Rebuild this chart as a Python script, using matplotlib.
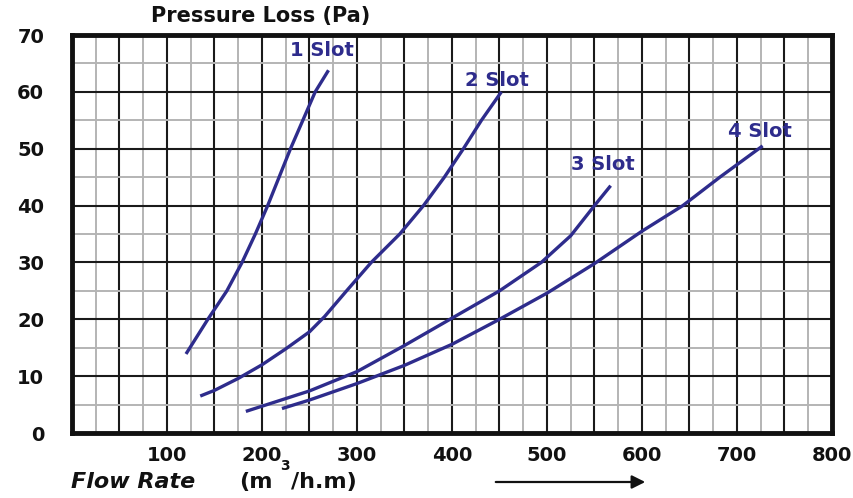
import matplotlib
matplotlib.use("Agg")
import matplotlib.pyplot as plt
from matplotlib.ticker import MultipleLocator, FuncFormatter

# ---- data ----
slot1_x = [120, 143, 163, 179, 193, 206, 218, 230, 243, 256, 270]
slot1_y = [13.9, 20, 25, 30, 35, 40, 45, 50, 55, 60, 63.8]

slot2_x = [135, 150, 175, 200, 225, 250, 266, 289, 315, 345, 370, 392, 412, 431, 452]
slot2_y = [6.5, 7.5, 9.6, 12, 14.8, 17.8, 20.5, 25, 30, 35, 40, 45, 50, 55, 60]

slot3_x = [183, 250, 300, 349, 400, 450, 494, 525, 550, 567]
slot3_y = [3.8, 7.4, 10.8, 15.3, 20.2, 25, 30, 34.7, 40, 43.5]

slot4_x = [221, 250, 300, 350, 400, 450, 500, 550, 600, 643, 682, 727]
slot4_y = [4.3, 5.8, 8.7, 11.9, 15.6, 20.0, 24.6, 29.8, 35.5, 40, 45, 50.5]

series_labels = ["1 Slot", "2 Slot", "3 Slot", "4 Slot"]
label_pos = [(263, 67.3), (447, 62.0), (559, 47.3), (724, 53.0)]

x_tick_labels = [100, 200, 300, 400, 500, 600, 700, 800]
y_tick_labels = [0, 10, 20, 30, 40, 50, 60, 70]

LINE = "#2e2c8c"
FONT = "DejaVu Sans"

fig = plt.figure(figsize=(8.54, 4.98), dpi=100)
ax = fig.add_axes([72 / 854, 65 / 498, 760 / 854, 398 / 498])
ax.set_xlim(0, 800)
ax.set_ylim(0, 70)

# grid
ax.xaxis.set_major_locator(MultipleLocator(50))
ax.xaxis.set_minor_locator(MultipleLocator(25))
ax.yaxis.set_major_locator(MultipleLocator(10))
ax.yaxis.set_minor_locator(MultipleLocator(5))
ax.grid(which="minor", color="#b4b4b4", linewidth=1.4)
ax.grid(which="major", color="#1a1a1a", linewidth=1.5)
ax.set_axisbelow(True)

def xfmt(v, pos):
    iv = int(round(v))
    return str(iv) if iv in x_tick_labels else ""

def yfmt(v, pos):
    iv = int(round(v))
    return str(iv) if iv in y_tick_labels else ""

ax.xaxis.set_major_formatter(FuncFormatter(xfmt))
ax.yaxis.set_major_formatter(FuncFormatter(yfmt))
ax.tick_params(which="both", length=0)
ax.tick_params(axis="x", pad=9)
ax.tick_params(axis="y", pad=20)
for lab in ax.get_xticklabels() + ax.get_yticklabels():
    lab.set_fontfamily(FONT)
    lab.set_fontweight("bold")
    lab.set_fontsize(14)
    lab.set_color("#111111")

for sp in ax.spines.values():
    sp.set_linewidth(3.5)
    sp.set_color("#111111")

# curves
for xs, ys in [(slot1_x, slot1_y), (slot2_x, slot2_y), (slot3_x, slot3_y), (slot4_x, slot4_y)]:
    ax.plot(xs, ys, color=LINE, linewidth=2.4, solid_capstyle="butt",
            solid_joinstyle="round", zorder=3)

for lab, (lx, ly) in zip(series_labels, label_pos):
    ax.text(lx, ly, lab, color=LINE, fontsize=14, fontweight="bold",
            fontfamily=FONT, ha="center", va="center", zorder=4)

# titles
fig.text(261 / 854, 1 - 16 / 498, "Pressure Loss (Pa)", fontsize=15, fontweight="bold",
         fontfamily=FONT, ha="center", va="center", color="#111111")

fig.text(71 / 854, 1 - 482 / 498, "Flow Rate", fontsize=16, fontweight="bold",
         fontstyle="italic", fontfamily=FONT, ha="left", va="center", color="#111111")
fig.text(239 / 854, 1 - 482 / 498, "(m", fontsize=16, fontweight="bold",
         fontfamily=FONT, ha="left", va="center", color="#111111")
fig.text(285 / 854, 1 - 466 / 498, "3", fontsize=10, fontweight="bold",
         fontfamily=FONT, ha="center", va="center", color="#111111")
fig.text(291 / 854, 1 - 482 / 498, "/h.m)", fontsize=16, fontweight="bold",
         fontfamily=FONT, ha="left", va="center", color="#111111")

fig.patches.append(matplotlib.patches.FancyArrowPatch(
    (493 / 854, 1 - 482 / 498), (648 / 854, 1 - 482 / 498),
    transform=fig.transFigure, arrowstyle="-|>,head_length=8,head_width=4",
    color="#111111", linewidth=1.6, mutation_scale=1))

fig.savefig("out.png", dpi=100)
